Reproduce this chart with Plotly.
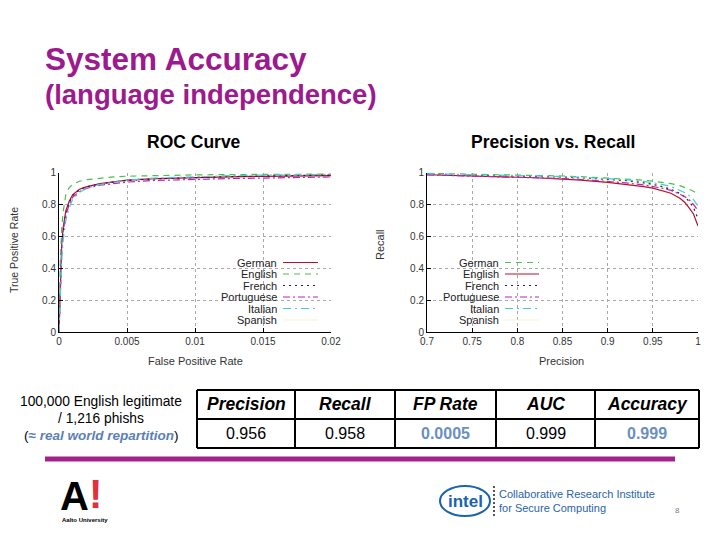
import plotly.graph_objects as go

W, H = 720, 540
OFF = 8  # the page body adds an 8px margin around the figure; compensate


def X(p):
    return (p - OFF) / W


def Y(p):
    return 1 - (p - OFF) / H


# ---------------- data ----------------
languages = ["German", "English", "French", "Portuguese", "Italian", "Spanish"]

# ROC curve (False Positive Rate -> True Positive Rate)
roc_fpr = [0, 0.0001, 0.0002, 0.0003, 0.0005, 0.00075, 0.001, 0.0015, 0.002,
           0.003, 0.004, 0.005, 0.007, 0.01, 0.0125, 0.015, 0.0175, 0.02]
roc_german = [0, 0.35, 0.55, 0.65, 0.76, 0.82, 0.86, 0.895, 0.91, 0.93, 0.943,
              0.952, 0.962, 0.970, 0.973, 0.976, 0.978, 0.981]
roc_english = [0, 0.45, 0.65, 0.75, 0.86, 0.905, 0.925, 0.945, 0.955, 0.965,
               0.972, 0.977, 0.982, 0.985, 0.987, 0.988, 0.989, 0.990]
roc_french = [0, 0.30, 0.50, 0.62, 0.74, 0.81, 0.855, 0.89, 0.91, 0.928, 0.94,
              0.95, 0.96, 0.970, 0.974, 0.978, 0.981, 0.984]
roc_portuguese = [0, 0.30, 0.52, 0.63, 0.73, 0.80, 0.845, 0.88, 0.90, 0.92,
                  0.932, 0.94, 0.95, 0.958, 0.962, 0.965, 0.968, 0.972]
roc_italian = [0, 0.25, 0.45, 0.57, 0.70, 0.78, 0.83, 0.875, 0.90, 0.925, 0.94,
               0.952, 0.965, 0.975, 0.980, 0.984, 0.986, 0.988]
roc_spanish = [0, 0.33, 0.53, 0.64, 0.75, 0.815, 0.855, 0.89, 0.908, 0.928,
               0.941, 0.95, 0.96, 0.968, 0.972, 0.975, 0.977, 0.979]

# Precision vs. Recall
pr_precision = [0.70, 0.72, 0.75, 0.78, 0.80, 0.82, 0.85, 0.87, 0.90, 0.92,
                0.94, 0.95, 0.96, 0.97, 0.98, 0.985, 0.99, 0.995, 1.0]
pr_german = [0.995, 0.993, 0.990, 0.988, 0.986, 0.984, 0.978, 0.974, 0.966,
             0.960, 0.952, 0.946, 0.940, 0.930, 0.918, 0.908, 0.896, 0.882, 0.865]
pr_english = [0.986, 0.983, 0.979, 0.974, 0.970, 0.967, 0.958, 0.952, 0.938,
              0.926, 0.912, 0.902, 0.888, 0.870, 0.838, 0.815, 0.780, 0.740, 0.665]
pr_french = [0.990, 0.988, 0.985, 0.982, 0.980, 0.978, 0.972, 0.967, 0.958,
             0.950, 0.935, 0.926, 0.912, 0.895, 0.868, 0.848, 0.820, 0.780, 0.710]
pr_portuguese = [0.985, 0.982, 0.978, 0.975, 0.972, 0.969, 0.962, 0.956, 0.945,
                 0.935, 0.922, 0.914, 0.902, 0.888, 0.865, 0.850, 0.830, 0.800, 0.760]
pr_italian = [0.992, 0.990, 0.987, 0.984, 0.982, 0.980, 0.975, 0.970, 0.962,
              0.955, 0.944, 0.937, 0.926, 0.912, 0.890, 0.875, 0.855, 0.830, 0.790]
pr_spanish = [0.990, 0.987, 0.984, 0.980, 0.977, 0.974, 0.967, 0.961, 0.951,
              0.942, 0.930, 0.922, 0.910, 0.895, 0.873, 0.858, 0.838, 0.810, 0.770]

# ticks
roc_xtickvals = [0, 0.005, 0.01, 0.015, 0.02]
roc_xticktext = ["0", "0.005", "0.01", "0.015", "0.02"]
pr_xtickvals = [0.7, 0.75, 0.8, 0.85, 0.9, 0.95, 1.0]
pr_xticktext = ["0.7", "0.75", "0.8", "0.85", "0.9", "0.95", "1"]
ytickvals = [0, 0.2, 0.4, 0.6, 0.8, 1.0]
yticktext = ["0", "0.2", "0.4", "0.6", "0.8", "1"]

# summary table
table_headers = ["Precision", "Recall", "FP Rate", "AUC", "Accuracy"]
table_values = ["0.956", "0.958", "0.0005", "0.999", "0.999"]
table_highlight = [False, False, True, False, True]

# ---------------- styles ----------------
RED, GREEN, BLUE = "#b8102a", "#4cbf4c", "#1c1c5a"
MAG, CYAN, YEL = "#c21fc2", "#49cccc", "#f6f6c8"
SOLID, DASH, DOT = "solid", "6px,5px", "2px,4px"
DASHDOT, DDOT = "7px,3px,2px,3px", "8px,4px,2px,4px"

roc_styles = [(RED, SOLID), (GREEN, DASH), (BLUE, DOT), (MAG, DASHDOT),
              (CYAN, DDOT), (YEL, SOLID)]
pr_styles = [(GREEN, DASH), (RED, SOLID), (BLUE, DOT), (MAG, DASHDOT),
             (CYAN, DDOT), (YEL, SOLID)]

roc_series = [roc_german, roc_english, roc_french, roc_portuguese, roc_italian, roc_spanish]
pr_series = [pr_german, pr_english, pr_french, pr_portuguese, pr_italian, pr_spanish]

TITLE_COL = "#9c1a8e"
FONT = "Liberation Sans"

fig = go.Figure()

order = [5, 0, 1, 2, 3, 4]
for i in order:
    col, dash = roc_styles[i]
    fig.add_trace(go.Scatter(x=roc_fpr, y=roc_series[i], mode="lines",
                             name=languages[i], showlegend=False,
                             line=dict(color=col, width=1.2, dash=dash),
                             xaxis="x", yaxis="y"))
for i in order:
    col, dash = pr_styles[i]
    fig.add_trace(go.Scatter(x=pr_precision, y=pr_series[i], mode="lines",
                             name=languages[i], showlegend=False,
                             line=dict(color=col, width=1.2, dash=dash),
                             xaxis="x2", yaxis="y2"))

axis_common = dict(showline=True, linecolor="black", linewidth=1, mirror=False,
                   ticks="inside", ticklen=4, tickcolor="black", automargin=False,
                   showgrid=True, gridcolor="#a8a8a8", griddash="dot", gridwidth=1,
                   zeroline=False, tickfont=dict(family=FONT, size=10, color="#333333"))

ydom = [Y(332), Y(172.5)]
fig.update_layout(
    template="none",
    width=W, height=H, autosize=False,
    margin=dict(l=0, r=0, t=0, b=0, pad=0),
    paper_bgcolor="white", plot_bgcolor="white",
    font=dict(family=FONT),
    xaxis=dict(domain=[X(59), X(331)], range=[0, 0.02], tickvals=roc_xtickvals,
               ticktext=roc_xticktext, anchor="y", **axis_common),
    yaxis=dict(domain=ydom, range=[0, 1], tickvals=ytickvals, ticktext=yticktext,
               anchor="x", **axis_common),
    xaxis2=dict(domain=[X(427), X(698)], range=[0.7, 1.0], tickvals=pr_xtickvals,
                ticktext=pr_xticktext, anchor="y2", **axis_common),
    yaxis2=dict(domain=ydom, range=[0, 1], tickvals=ytickvals, ticktext=yticktext,
                anchor="x2", **axis_common),
)

ann = []
shapes = []


def text(x, y, s, size, color="black", xanchor="center", bold=False, angle=0,
         family=FONT):
    if bold:
        s = "<b>" + s + "</b>"
    ann.append(dict(x=X(x), y=Y(y), xref="paper", yref="paper", text=s,
                    showarrow=False, xanchor=xanchor, yanchor="middle",
                    borderpad=0, textangle=angle,
                    font=dict(family=family, size=size, color=color)))


# slide titles
text(44, 59, "System Accuracy", 31.5, TITLE_COL, xanchor="left", bold=True)
text(44, 95, "(language independence)", 27.5, TITLE_COL, xanchor="left", bold=True)

# chart titles
text(194, 142, "ROC Curve", 17.5, bold=True)
text(553, 142, "Precision vs. Recall", 17.5, bold=True)

# axis titles
text(195, 361, "False Positive Rate", 11, "#333333")
text(561, 361, "Precision", 11, "#333333")
text(14, 250, "True Positive Rate", 10.5, "#333333", angle=-90)
text(380, 245, "Recall", 11, "#333333", angle=-90)

# custom gnuplot-like legends (text left, sample right)
legend_rows = [262.5, 274, 285.5, 297, 308.5, 320]
for styles, tx, s0, s1 in [(roc_styles, 278, 283, 318), (pr_styles, 500, 505, 539)]:
    for i, lang in enumerate(languages):
        yy = legend_rows[i]
        text(tx, yy, lang, 11, "#222222", xanchor="right")
        col, dash = styles[i]
        shapes.append(dict(type="line", xref="paper", yref="paper",
                           x0=X(s0), x1=X(s1), y0=Y(yy), y1=Y(yy),
                           line=dict(color=col, width=1.2, dash=dash)))

# left description
text(101, 401, "100,000 English legitimate", 13.8)
text(101, 418, "/ 1,216 phishs", 13.8)
text(101, 435, "(<b><i><span style='color:#5b7fb6'>\u2248 real world repartition</span></i></b>)", 13.5)

# table
col_edges = [197, 295, 395, 496, 595, 699]
row_edges = [390, 419, 448]
for xe in col_edges:
    shapes.append(dict(type="line", xref="paper", yref="paper", x0=X(xe), x1=X(xe),
                       y0=Y(row_edges[0]), y1=Y(row_edges[-1]),
                       line=dict(color="black", width=2)))
for ye in row_edges:
    shapes.append(dict(type="line", xref="paper", yref="paper", x0=X(col_edges[0]),
                       x1=X(col_edges[-1]), y0=Y(ye), y1=Y(ye),
                       line=dict(color="black", width=2)))
for i, (hdr, val) in enumerate(zip(table_headers, table_values)):
    cx = (col_edges[i] + col_edges[i + 1]) / 2
    text(cx, 404, "<b><i>" + hdr + "</i></b>", 17.5)
    if table_highlight[i]:
        text(cx, 433, "<b>" + val + "</b>", 16, "#6a8fc0")
    else:
        text(cx, 433, val, 16)

# purple separator bar
shapes.append(dict(type="line", xref="paper", yref="paper", x0=X(45), x1=X(675),
                   y0=Y(459), y1=Y(459), line=dict(color="#a3238e", width=5)))

# Aalto logo
text(74, 496, "A", 40, "black", bold=True)
text(95, 494, "!", 40, "#e2303c", bold=True)
text(85, 520, "Aalto University", 6, "black", bold=True)

# Intel logo
shapes.append(dict(type="circle", xref="paper", yref="paper", x0=X(440), x1=X(490),
                   y0=Y(516), y1=Y(486), line=dict(color="#1a63ad", width=2)))
text(465, 501, "intel", 17, "#1a63ad", bold=True)
shapes.append(dict(type="line", xref="paper", yref="paper", x0=X(494), x1=X(494),
                   y0=Y(486), y1=Y(518), line=dict(color="#555555", width=2, dash="2px,2px")))
text(498, 494, "Collaborative Research Institute", 11, "#2a64a8", xanchor="left")
text(498, 508, "for Secure Computing", 11, "#2a64a8", xanchor="left")
text(677, 510, "8", 8, "#808080")

fig.update_layout(annotations=ann, shapes=shapes)
fig.write_html("out.html")
